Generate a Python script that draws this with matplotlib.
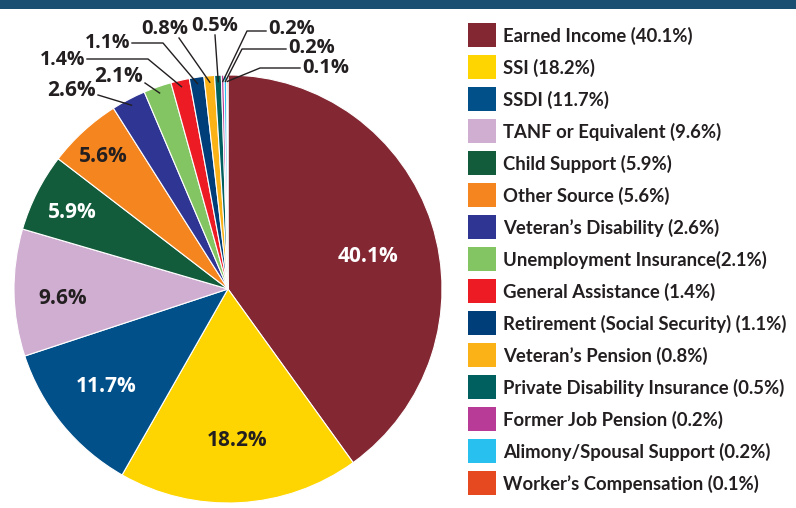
import matplotlib.pyplot as plt
from matplotlib.patches import Rectangle
import numpy as np

# income sources, percent of respondents
sources = ['Earned Income', 'SSI', 'SSDI', 'TANF or Equivalent', 'Child Support',
           'Other Source', 'Veteran\u2019s Disability', 'Unemployment Insurance',
           'General Assistance', 'Retirement (Social Security)', 'Veteran\u2019s Pension',
           'Private Disability Insurance', 'Former Job Pension',
           'Alimony/Spousal Support', 'Worker\u2019s Compensation']
shares = [40.1, 18.2, 11.7, 9.6, 5.9, 5.6, 2.6, 2.1, 1.4, 1.1, 0.8, 0.5, 0.2, 0.2, 0.1]
colors = ['#832733', '#fed500', '#02508a', '#d0aed2', '#135c3b', '#f5861f', '#2e3592',
          '#84c563', '#ed1c24', '#003e79', '#fbb217', '#005f5f', '#b83c97', '#27c0ef',
          '#e6491f']

W, H = 796, 508
DARK = '#231f20'

fig = plt.figure(figsize=(W / 100, H / 100), dpi=100)
ax = fig.add_axes([0, 0, 1, 1])


def py(y):
    # pixel rows counted from the top
    return H - y


cx, cy, R = 228, 289, 214
wedges, _ = ax.pie(shares, colors=colors, startangle=90, counterclock=False,
                   center=(cx, py(cy)), radius=R, frame=True,
                   wedgeprops=dict(edgecolor='white', linewidth=0.8))
ax.set_xlim(0, W)
ax.set_ylim(0, H)
ax.set_aspect('equal')
ax.axis('off')

# header band
ax.add_patch(Rectangle((0, py(9)), W, 9, color='#1b4f72', lw=0))

pie_font = dict(family=['Open Sans', 'DejaVu Sans'], weight='bold')

# labels inside the large slices: (x, y, colour)
inner = {0: (368, 257, 'white'), 1: (237, 441, DARK), 2: (106, 387, 'white'),
         3: (63, 298, DARK), 4: (72, 213, 'white'), 5: (103, 156, DARK)}
for i, (x, y, c) in inner.items():
    ax.text(x, py(y), f'{shares[i]:.1f}%', color=c, fontsize=15, ha='center',
            va='center', **pie_font)

# small slices get a leader line: text anchor, alignment, elbow points, size
outer = {
    6: ((96, 91), 'right', [(98, 95)], 15),
    7: ((143, 76), 'right', [(145, 83)], 15),
    8: ((85, 60), 'right', [(87, 59), (148, 59)], 14),
    9: ((130, 43), 'right', [(132, 43), (163, 43)], 14),
    10: ((165, 29), 'center', [(179, 38)], 14.5),
    11: ((215, 26), 'center', [(215, 35)], 14.5),
    12: ((268, 29), 'left', [(266, 31), (247, 31)], 14.5),
    13: ((288, 48), 'left', [(286, 49), (242, 49)], 14.5),
    14: ((302, 68), 'left', [(300, 68), (260, 68)], 14.5),
}
for i, ((tx, ty), ha, pts, fs) in outer.items():
    w = wedges[i]
    mid = np.deg2rad((w.theta1 + w.theta2) / 2)
    ex = cx + 0.97 * R * np.cos(mid)
    ey = py(cy) + 0.97 * R * np.sin(mid)
    xs = [p[0] for p in pts] + [ex]
    ys = [py(p[1]) for p in pts] + [ey]
    ax.plot(xs, ys, color=DARK, lw=1)
    ax.text(tx, py(ty), f'{shares[i]:.1f}%', color=DARK, fontsize=fs, ha=ha,
            va='center', **pie_font)

# legend
for k, (name, val, col) in enumerate(zip(sources, shares, colors)):
    yc = 35 + 32 * k
    ax.add_patch(Rectangle((468, py(yc + 12)), 28, 24, color=col, lw=0))
    sep = '' if name.startswith('Unemployment') else ' '
    ax.text(503, py(yc + 1), f'{name}{sep}({val:.1f}%)', color=DARK, fontsize=13.3,
            ha='left', va='center', family=['Lato', 'DejaVu Sans'], weight='bold')

fig.savefig('out.png', dpi=100)
